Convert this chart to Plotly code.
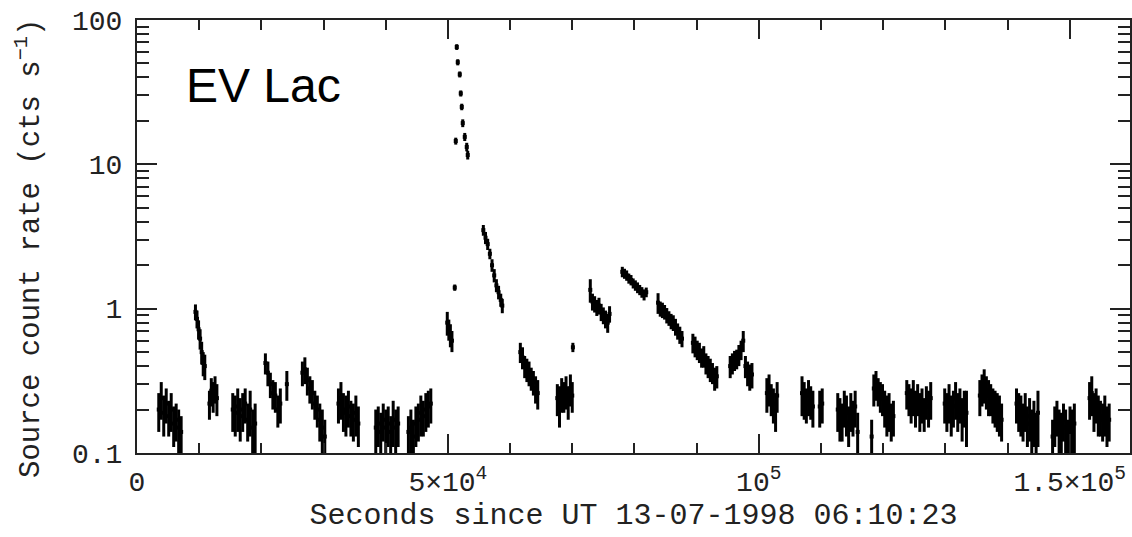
import plotly.graph_objects as go

# ---- data (time in s since UT 13-07-1998 06:10:23) ----
time_s = [
    # orbit 1
    3500, 3900, 4300, 4700, 5100, 5500, 5900, 6300, 6700, 7100,
    # orbit 2
    9400, 9650, 9900, 10150, 10400, 10650, 10900,
    11650, 11950, 12250, 12550, 12850,
    # orbit 3
    15400, 15800, 16200, 16600, 17000, 17400, 17800, 18200, 18600, 19000,
    # orbit 4
    20650, 21050, 21450, 21850, 22250, 22650, 23050, 24100,
    # orbit 5
    26600, 27000, 27400, 27800, 28200, 28600, 29000, 29400, 29800, 30200,
    # orbit 6
    32400, 32800, 33200, 33600, 34000, 34400, 34800, 35200, 35600,
    # orbit 7
    38400, 38800, 39200, 39600, 40000, 40400, 40800, 41200, 41600, 42000,
    # orbit 8
    43650, 44050, 44450, 44850, 45250, 45650, 46050, 46450, 46850, 47250,
    # orbit 9: rise and flare
    49900, 50150, 50400, 50650, 51100,
    51263, 51424, 51585, 51906, 52067, 52228, 52388, 52710, 53031, 53190,
    # orbit 10
    55700, 56050, 56400, 56750, 57100, 57450, 57800, 58150, 58500, 58750,
    # orbit 11
    61650, 62000, 62350, 62700, 63050, 63400, 63750, 64100, 64450,
    # orbit 12
    67600, 67950, 68300, 68650, 69000, 69350, 69700, 70000, 70100,
    # orbit 13
    72900, 73250, 73600, 73950, 74300, 74650, 75000, 75350, 75700, 76000,
    # orbit 14
    78050, 78400, 78750, 79100, 79450, 79800, 80150, 80500, 80850, 81200, 81550, 81900,
    # orbit 15
    83800, 84150, 84500, 84850, 85200, 85550, 85900, 86250, 86600, 86950, 87300, 87650,
    # orbit 16
    89400, 89750, 90100, 90450, 90800, 91150,
    91500, 91850, 92200, 92550, 92900, 93250,
    # orbit 17
    95400, 95750, 96100, 96450, 96800, 97150, 97500, 97850, 98200, 98550, 98900,
    # orbit 18
    101300, 101650, 102000, 102350, 102700, 102950,
    # orbit 19
    106950, 107300, 107650, 108000, 108350, 108700, 109800, 110200,
    # orbit 20
    112700, 113050, 113400, 113750, 114100, 114450, 114800, 115150, 115500, 115900,
    # orbit 21
    118150, 118500, 118850, 119200, 119550, 119900, 120250, 120600, 120950, 121300, 121650,
    # orbit 22
    123800, 124150, 124500, 124850, 125200, 125550, 125900, 126250, 126600, 126950, 127300, 127650,
    # orbit 23
    129900, 130250, 130600, 130950, 131300, 131650, 132000, 132350, 132700, 133050, 133400,
    # orbit 24
    135550, 135900, 136250, 136600, 136950, 137300, 137650, 138000, 138350, 138700, 139050,
    # orbit 25
    141450, 141800, 142150, 142500, 142850, 143200, 143550, 143900, 144250, 144600, 144900,
    # orbit 26
    147250, 147600, 147950, 148300, 148650, 149000, 149350, 149700, 150050, 150400, 150750,
    # orbit 27
    153200, 153550, 153900, 154250, 154600, 154950, 155300, 155650, 156000, 156350,
]

rate = [
    0.20, 0.24, 0.19, 0.22, 0.18, 0.20, 0.16, 0.17, 0.15, 0.14,
    0.95, 0.85, 0.72, 0.62, 0.50, 0.42, 0.40,
    0.22, 0.27, 0.25, 0.28, 0.24,
    0.20, 0.19, 0.21, 0.18, 0.20, 0.22, 0.17, 0.20, 0.15, 0.16,
    0.42, 0.36, 0.30, 0.26, 0.25, 0.20, 0.22, 0.30,
    0.36, 0.38, 0.32, 0.28, 0.26, 0.22, 0.20, 0.17, 0.15, 0.13,
    0.22, 0.24, 0.20, 0.19, 0.21, 0.18, 0.17, 0.19, 0.16,
    0.15, 0.16, 0.14, 0.17, 0.15, 0.16, 0.14, 0.17, 0.15, 0.16,
    0.14, 0.15, 0.13, 0.16, 0.17, 0.19, 0.18, 0.20, 0.21, 0.22,
    0.80, 0.72, 0.66, 0.60, 1.40,
    14.5, 65.0, 51.0, 42.0, 31.0, 25.0, 19.3, 15.5, 13.2, 11.6,
    3.5, 3.1, 2.8, 2.4, 2.0, 1.7, 1.45, 1.3, 1.15, 1.05,
    0.50, 0.46, 0.40, 0.38, 0.36, 0.33, 0.31, 0.28, 0.26,
    0.24, 0.22, 0.26, 0.25, 0.27, 0.23, 0.28, 0.25, 0.54,
    1.35, 1.12, 1.08, 1.02, 1.05, 0.95, 0.90, 0.85, 0.80, 0.92,
    1.80, 1.75, 1.70, 1.62, 1.58, 1.50, 1.45, 1.40, 1.35, 1.30, 1.25, 1.30,
    1.10, 1.00, 0.98, 0.95, 0.90, 0.86, 0.82, 0.80, 0.75, 0.70, 0.66, 0.62,
    0.58, 0.55, 0.52, 0.50, 0.46, 0.47,
    0.42, 0.40, 0.38, 0.36, 0.33, 0.34,
    0.40, 0.42, 0.44, 0.45, 0.48, 0.52, 0.60, 0.40, 0.36, 0.34, 0.35,
    0.26, 0.28, 0.24, 0.22, 0.20, 0.25,
    0.26, 0.24, 0.22, 0.25, 0.23, 0.21, 0.21, 0.22,
    0.20, 0.18, 0.17, 0.21, 0.19, 0.16, 0.20, 0.18, 0.21, 0.14,
    0.13, 0.28, 0.30, 0.27, 0.25, 0.24, 0.21, 0.19, 0.20, 0.17, 0.18,
    0.26, 0.24, 0.22, 0.25, 0.21, 0.24, 0.20, 0.22, 0.19, 0.23, 0.21, 0.24,
    0.22, 0.20, 0.23, 0.19, 0.21, 0.24, 0.20, 0.22, 0.18, 0.21, 0.19,
    0.25, 0.28, 0.30, 0.27, 0.25, 0.24, 0.22, 0.21, 0.20, 0.19, 0.17,
    0.22, 0.20, 0.19, 0.17, 0.20, 0.16, 0.18, 0.15, 0.17, 0.14, 0.19,
    0.13, 0.16, 0.18, 0.15, 0.14, 0.17, 0.15, 0.13, 0.16, 0.15, 0.16,
    0.24, 0.26, 0.20, 0.22, 0.19, 0.18, 0.17, 0.19, 0.16, 0.17,
]

rate_err = [
    0.06, 0.07, 0.06, 0.06, 0.05, 0.06, 0.05, 0.05, 0.05, 0.04,
    0.12, 0.12, 0.11, 0.10, 0.09, 0.08, 0.08,
    0.05, 0.06, 0.06, 0.06, 0.06,
    0.06, 0.06, 0.07, 0.06, 0.06, 0.06, 0.05, 0.07, 0.05, 0.06,
    0.07, 0.07, 0.06, 0.06, 0.06, 0.05, 0.06, 0.07,
    0.07, 0.08, 0.07, 0.06, 0.06, 0.05, 0.05, 0.05, 0.05, 0.04,
    0.06, 0.07, 0.06, 0.06, 0.06, 0.05, 0.05, 0.06, 0.05,
    0.05, 0.05, 0.05, 0.05, 0.05, 0.05, 0.04, 0.06, 0.05, 0.05,
    0.04, 0.05, 0.04, 0.05, 0.05, 0.06, 0.05, 0.06, 0.06, 0.06,
    0.15, 0.12, 0.12, 0.10, 0.07,
    0.8, 3.0, 2.5, 2.0, 1.5, 1.3, 1.2, 1.0, 0.9, 0.8,
    0.30, 0.30, 0.25, 0.20, 0.20, 0.18, 0.15, 0.14, 0.12, 0.12,
    0.08, 0.08, 0.07, 0.07, 0.07, 0.06, 0.06, 0.06, 0.06,
    0.06, 0.07, 0.07, 0.06, 0.07, 0.06, 0.07, 0.06, 0.04,
    0.25, 0.15, 0.14, 0.13, 0.14, 0.13, 0.12, 0.12, 0.12, 0.12,
    0.15, 0.14, 0.14, 0.13, 0.13, 0.12, 0.12, 0.12, 0.11, 0.11, 0.11, 0.10,
    0.18, 0.12, 0.12, 0.11, 0.11, 0.10, 0.10, 0.10, 0.10, 0.09, 0.09, 0.08,
    0.09, 0.09, 0.08, 0.08, 0.07, 0.08,
    0.07, 0.07, 0.07, 0.06, 0.06, 0.06,
    0.07, 0.07, 0.07, 0.07, 0.08, 0.08, 0.10, 0.07, 0.07, 0.07, 0.07,
    0.07, 0.07, 0.06, 0.06, 0.06, 0.06,
    0.08, 0.07, 0.06, 0.07, 0.06, 0.06, 0.06, 0.06,
    0.06, 0.06, 0.05, 0.06, 0.06, 0.05, 0.06, 0.05, 0.06, 0.05,
    0.04, 0.07, 0.07, 0.06, 0.06, 0.06, 0.06, 0.06, 0.06, 0.05, 0.05,
    0.06, 0.06, 0.06, 0.07, 0.06, 0.06, 0.06, 0.06, 0.05, 0.06, 0.06, 0.07,
    0.06, 0.06, 0.07, 0.06, 0.06, 0.07, 0.06, 0.06, 0.06, 0.06, 0.08,
    0.07, 0.07, 0.08, 0.07, 0.07, 0.06, 0.06, 0.06, 0.06, 0.06, 0.05,
    0.06, 0.06, 0.06, 0.05, 0.06, 0.05, 0.06, 0.05, 0.06, 0.05, 0.08,
    0.04, 0.05, 0.05, 0.05, 0.05, 0.05, 0.05, 0.04, 0.05, 0.05, 0.06,
    0.07, 0.08, 0.06, 0.06, 0.06, 0.05, 0.05, 0.06, 0.05, 0.05,
]

x_tick_vals = [0, 50000, 100000, 150000]
x_tick_text = ["0", "5×10<sup>4</sup>", "10<sup>5</sup>", "1.5×10<sup>5</sup>"]
y_tick_vals = [0.1, 1, 10, 100]
y_tick_text = ["0.1", "1", "10", "100"]
y_minor_vals = [0.2, 0.3, 0.4, 0.5, 0.6, 0.7, 0.8, 0.9,
                2, 3, 4, 5, 6, 7, 8, 9,
                20, 30, 40, 50, 60, 70, 80, 90]

x_title = "Seconds since UT 13-07-1998 06:10:23"
y_title = "Source count rate (cts s<sup>−1</sup>)"
label_text = "EV Lac"

X_RANGE = [0, 159700]
Y_RANGE = [-1, 2]
MONO = "Liberation Mono, Courier New, monospace"
AX = "#222222"

fig = go.Figure()
fig.add_trace(go.Scatter(
    x=time_s, y=rate, mode="markers",
    marker=dict(symbol="square", size=4, color="black"),
    error_y=dict(type="data", array=rate_err, visible=True,
                 color="black", thickness=3, width=0),
    showlegend=False, hoverinfo="x+y",
))
# empty trace to realise the mirrored (top/right) axes
fig.add_trace(go.Scatter(x=[None], y=[None], xaxis="x2", yaxis="y2",
                         showlegend=False, hoverinfo="skip"))

common_x = dict(range=X_RANGE, showgrid=False, zeroline=False, automargin=False,
                showline=True, linecolor=AX, linewidth=2,
                ticks="inside", ticklen=19, tickwidth=1.6, tickcolor=AX,
                tickvals=x_tick_vals,
                minor=dict(ticks="inside", dtick=10000, tick0=0, ticklen=10,
                           tickwidth=1.6, tickcolor=AX, showgrid=False))
common_y = dict(type="log", range=Y_RANGE, showgrid=False, zeroline=False,
                automargin=False,
                showline=True, linecolor=AX, linewidth=2,
                ticks="inside", ticklen=20, tickwidth=1.6, tickcolor=AX,
                tickvals=y_tick_vals,
                minor=dict(ticks="inside", tickvals=y_minor_vals, ticklen=12,
                           tickwidth=1.6, tickcolor=AX, showgrid=False))

fig.update_layout(
    width=1132, height=537,
    margin=dict(l=137, r=2, t=20, b=84),
    paper_bgcolor="white", plot_bgcolor="white",
    xaxis=dict(**common_x, ticktext=x_tick_text, ticklabelstandoff=2,
               tickfont=dict(family=MONO, size=28, color="#222"),
               title=dict(text=x_title, standoff=0,
                          font=dict(family=MONO, size=30, color="#222"))),
    yaxis=dict(**common_y, ticktext=y_tick_text, ticklabelstandoff=7,
               tickfont=dict(family=MONO, size=28, color="#222")),
    xaxis2=dict(**common_x, overlaying="x", side="top", anchor="y2",
                showticklabels=False),
    yaxis2=dict(**common_y, overlaying="y", side="right", anchor="x2",
                showticklabels=False),
    annotations=[
        dict(text=label_text, xref="paper", yref="paper",
             x=(184 - 137) / 993, y=(453 - 86) / 433,
             xanchor="left", yanchor="middle", showarrow=False,
             font=dict(family="Liberation Sans, Arial, sans-serif", size=48,
                       color="black")),
        dict(text=y_title, xref="paper", yref="paper",
             x=(29 - 137) / 993, y=(453 - 249) / 433, textangle=-90,
             xanchor="center", yanchor="middle", showarrow=False,
             font=dict(family=MONO, size=29, color="#222")),
    ],
)

fig.write_html(
    "out.html",
    config={"displayModeBar": False},
    post_script="document.body.style.margin='0';"
                "document.body.style.overflow='hidden';",
)
